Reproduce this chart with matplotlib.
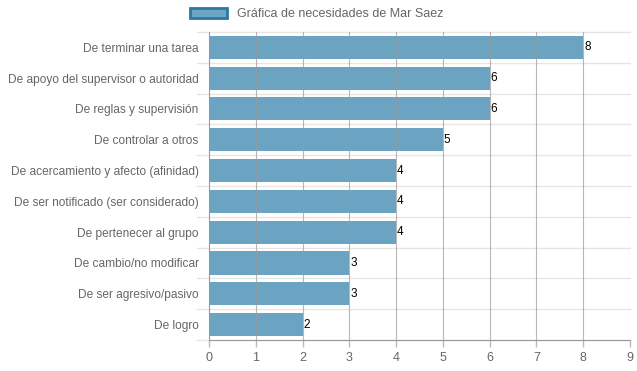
import matplotlib.pyplot as plt
from matplotlib.patches import Patch

# Données
categories = [
    "De terminar una tarea",
    "De apoyo del supervisor o autoridad",
    "De reglas y supervisión",
    "De controlar a otros",
    "De acercamiento y afecto (afinidad)",
    "De ser notificado (ser considerado)",
    "De pertenecer al grupo",
    "De cambio/no modificar",
    "De ser agresivo/pasivo",
    "De logro",
]
valeurs = [8, 6, 6, 5, 4, 4, 4, 3, 3, 2]
titre_legende = "Gráfica de necesidades de Mar Saez"

plt.rcParams['font.family'] = ['Liberation Sans', 'DejaVu Sans']

fig = plt.figure(figsize=(6.37, 3.71), dpi=100)
ax = fig.add_axes([0.328, 0.0836, 0.661, 0.8304])

y = list(range(len(categories)))
ax.barh(y, valeurs, height=0.75, color='#468eb5', alpha=0.8, zorder=1)

# valeurs au bout des barres
for yi, v in zip(y, valeurs):
    ax.text(v + 0.02, yi, str(v), va='center', ha='left', fontsize=8.5, color='black')

ax.set_xlim(0, 9)
ax.set_ylim(len(categories) - 0.5, -0.5)
ax.set_xticks(range(10))
ax.set_yticks(y)
ax.set_yticklabels(categories)
ax.tick_params(axis='x', colors='#666666', labelsize=9, length=5, width=1, color='#bbbbbb')
ax.tick_params(axis='y', colors='#666666', labelsize=8.6, length=0, pad=7.5)

# grilles
for xv in range(1, 10):
    ax.axvline(xv, color='#999999', lw=0.8, zorder=2, alpha=0.7)
for b in range(len(categories)):
    ax.plot([-0.25, 9], [b + 0.5, b + 0.5], color='#e6e6e6', lw=1, clip_on=False, zorder=0)
ax.plot([-0.25, 9], [-0.5, -0.5], color='#e6e6e6', lw=1, clip_on=False, zorder=0)

for s in ['top', 'right']:
    ax.spines[s].set_visible(False)
ax.spines['left'].set_color('#999999')
ax.spines['bottom'].set_color('#999999')

fig.legend(handles=[Patch(facecolor='#6ba5c4', edgecolor='#2f77a3', lw=2)],
           labels=[titre_legende], loc='upper center', bbox_to_anchor=(0.497, 1.01),
           frameon=False, fontsize=9, handlelength=3.0, handleheight=0.9,
           labelcolor='#666666')

fig.savefig('out.png', dpi=100)
